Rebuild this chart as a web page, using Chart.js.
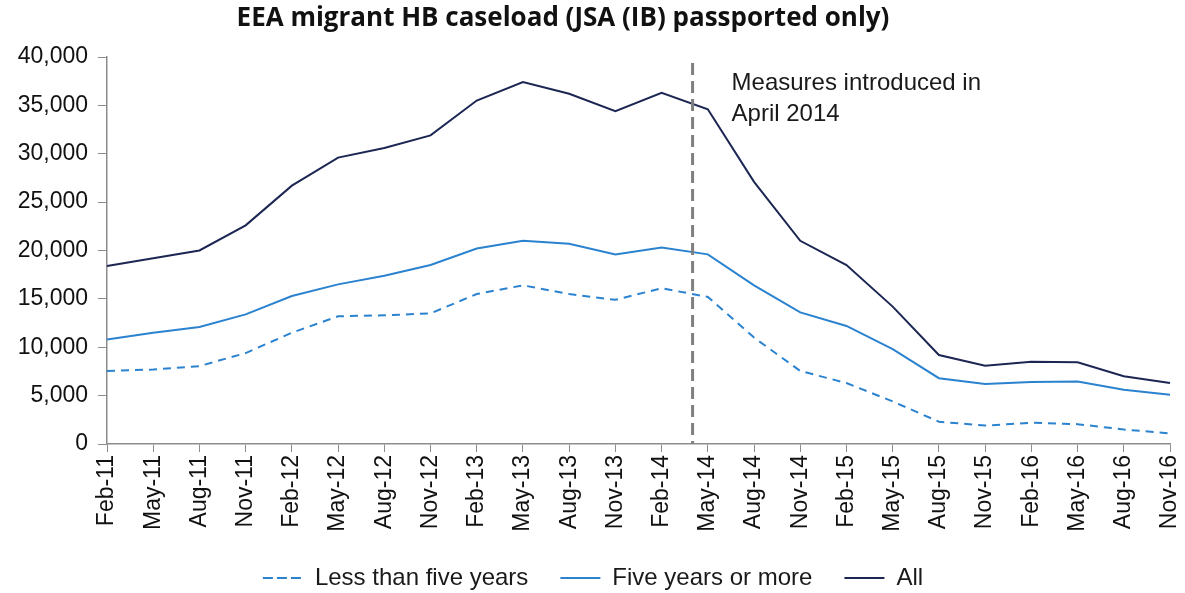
<!DOCTYPE html>
<html>
<head>
<meta charset="utf-8">
<script src="https://cdn.jsdelivr.net/npm/chart.js@4"></script>
<style>
  html, body { margin: 0; padding: 0; background: #fff; }
  #wrap { width: 1185px; height: 593px; }
</style>
</head>
<body>
<div id="wrap"><canvas id="caseloadChart" width="1185" height="593"></canvas></div>
<script>
// Chart data
const categories = ['Feb-11', 'May-11', 'Aug-11', 'Nov-11', 'Feb-12', 'May-12', 'Aug-12', 'Nov-12',
    'Feb-13', 'May-13', 'Aug-13', 'Nov-13', 'Feb-14', 'May-14', 'Aug-14', 'Nov-14',
    'Feb-15', 'May-15', 'Aug-15', 'Nov-15', 'Feb-16', 'May-16', 'Aug-16', 'Nov-16'];
const lessThanFive = [7550, 7700, 8050, 9400, 11500, 13200, 13300, 13500,
    15500, 16400, 15500, 14900, 16100, 15200, 11000, 7550,
    6300, 4400, 2300, 1900, 2200, 2050, 1500, 1100];
const fiveOrMore = [10800, 11500, 12100, 13400, 15300, 16500, 17400, 18500,
    20200, 21000, 20700, 19600, 20300, 19600, 16400, 13600,
    12200, 9800, 6800, 6200, 6400, 6450, 5600, 5100];
const allCases = [18400, 19200, 20000, 22600, 26700, 29600, 30600, 31900,
    35500, 37400, 36200, 34400, 36300, 34600, 27100, 21000,
    18500, 14200, 9200, 8100, 8500, 8450, 7000, 6300];
const yTicks = [0, 5000, 10000, 15000, 20000, 25000, 30000, 35000, 40000];

// Measures introduced in April 2014 (between Feb-14 and May-14)
const measurePosition = 12.67;
const measureText = ['Measures introduced in', 'April 2014'];
const chartTitle = 'EEA migrant HB caseload (JSA (IB) passported only)';

const axisColor = '#8c8c8c';
const tickFont = { family: 'Liberation Sans, Arial, sans-serif', size: 23 };

// Draws the title, the dashed marker line and its note
const extrasPlugin = {
    id: 'extras',
    afterDraw(chart) {
        const c = chart.ctx;
        const x = chart.scales.x.getPixelForValue(measurePosition);
        const top = chart.chartArea.top;
        const bottom = chart.chartArea.bottom;

        c.save();
        c.strokeStyle = '#808080';
        c.lineWidth = 3;
        c.setLineDash([12, 6]);
        c.beginPath();
        c.moveTo(x, top + 6);
        c.lineTo(x, bottom);
        c.stroke();
        c.setLineDash([]);

        c.fillStyle = '#1a1a1a';
        c.font = '24px "Liberation Sans", Arial, sans-serif';
        c.textBaseline = 'middle';
        c.textAlign = 'left';
        measureText.forEach((line, i) => {
            c.fillText(line, x + 39, top + 26 + i * 31);
        });

        c.font = 'bold 26px "Open Sans", sans-serif';
        c.textAlign = 'center';
        c.fillStyle = '#111';
        c.fillText(chartTitle, 563, 19);
        c.restore();
    }
};

const ctx = document.getElementById('caseloadChart').getContext('2d');

new Chart(ctx, {
    type: 'line',
    data: {
        labels: categories,
        datasets: [
            {
                label: 'Less than five years',
                data: lessThanFive,
                borderColor: '#2b82cf',
                backgroundColor: '#2b82cf',
                borderWidth: 2,
                borderDash: [8, 6],
                pointRadius: 0,
                tension: 0
            },
            {
                label: 'Five years or more',
                data: fiveOrMore,
                borderColor: '#2b82cf',
                backgroundColor: '#2b82cf',
                borderWidth: 2,
                pointRadius: 0,
                tension: 0
            },
            {
                label: 'All',
                data: allCases,
                borderColor: '#1c2653',
                backgroundColor: '#1c2653',
                borderWidth: 2,
                pointRadius: 0,
                tension: 0
            }
        ]
    },
    options: {
        responsive: false,
        animation: false,
        layout: { padding: { top: 57, left: 16, right: 15, bottom: -7 } },
        plugins: {
            title: { display: false },
            tooltip: { enabled: false },
            legend: {
                position: 'bottom',
                labels: {
                    boxWidth: 40,
                    boxHeight: 0,
                    color: '#1a1a1a',
                    font: { family: 'Liberation Sans, Arial, sans-serif', size: 24 },
                    padding: 32
                }
            }
        },
        scales: {
            x: {
                afterFit(scale) {
                    scale.height = 90;
                    scale.paddingLeft = 0;
                    scale.paddingRight = 0;
                },
                grid: { drawOnChartArea: false, drawTicks: true, tickLength: 8, color: axisColor },
                border: { color: axisColor, width: 1.5 },
                ticks: {
                    color: '#111',
                    font: tickFont,
                    minRotation: 90,
                    maxRotation: 90,
                    autoSkip: false,
                    padding: 3
                }
            },
            y: {
                min: 0,
                max: 40000,
                afterFit(scale) { scale.width = 91; },
                afterBuildTicks(scale) { scale.ticks = yTicks.map(v => ({ value: v })); },
                grid: { drawOnChartArea: false, drawTicks: true, tickLength: 9, color: axisColor },
                border: { color: axisColor, width: 1.5 },
                ticks: {
                    color: '#111',
                    font: tickFont,
                    padding: 10,
                    callback: v => v.toLocaleString('en-US')
                }
            }
        }
    },
    plugins: [extrasPlugin]
});
</script>
</body>
</html>
